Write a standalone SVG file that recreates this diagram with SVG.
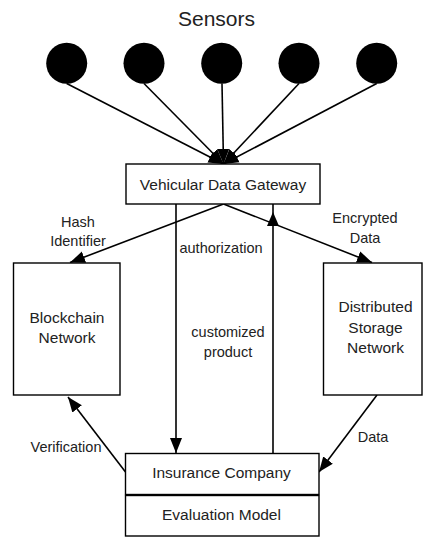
<svg xmlns="http://www.w3.org/2000/svg" width="423" height="537" viewBox="0 0 423 537">
<defs>
<style>
text{font-family:"Liberation Sans",Arial,sans-serif;fill:#222;}
.box{fill:#fff;stroke:#000;stroke-width:1.4;}
.lbl{font-size:14.5px;text-anchor:middle;}
.bt{font-size:15.5px;text-anchor:middle;}
.c{stroke:#000;stroke-width:1.6;fill:none;marker-end:url(#ah);}
.n{stroke:#000;stroke-width:1.6;fill:none;}
</style>
<marker id="ah" markerUnits="userSpaceOnUse" markerWidth="16" markerHeight="13" refX="15" refY="6.5" orient="auto">
<path d="M0,0.5 L15,6.5 L0,12.5 Z" fill="#000"/>
</marker>
</defs>
<rect width="423" height="537" fill="#fff"/>
<text x="216.5" y="26" style="font-size:21px;text-anchor:middle">Sensors</text>
<g id="sensors">
<circle cx="66.7" cy="63.3" r="20.5" fill="#000"/>
<circle cx="144" cy="63.3" r="20.5" fill="#000"/>
<circle cx="221.7" cy="63.3" r="20.5" fill="#000"/>
<circle cx="299" cy="63.3" r="20.5" fill="#000"/>
<circle cx="376.7" cy="63.3" r="20.5" fill="#000"/>
</g>
<g id="connectors">
<line class="c" x1="66.7" y1="83.5" x2="223.5" y2="164"/>
<line class="c" x1="144" y1="83.5" x2="223.5" y2="164"/>
<line class="c" x1="222" y1="83.5" x2="223.5" y2="164"/>
<line class="c" x1="299" y1="83.5" x2="223.5" y2="164"/>
<line class="c" x1="376.7" y1="83.5" x2="223.5" y2="164"/>
<line class="c" x1="223.5" y1="204" x2="70" y2="262.5"/>
<line class="c" x1="223.5" y1="204" x2="372" y2="262.5"/>
<line class="c" x1="176" y1="204" x2="176" y2="453"/>
<line class="n" x1="273" y1="453" x2="273" y2="204"/>
<path d="M273,212 L279,226 L267,226 Z" fill="#000"/>
<line class="c" x1="125.5" y1="472" x2="68" y2="397"/>
<line class="c" x1="377" y1="395" x2="319" y2="472"/>
</g>
<g id="gateway">
<rect class="box" x="126" y="164" width="194" height="40"/>
<text class="bt" x="223" y="189.5">Vehicular Data Gateway</text>
</g>
<g id="blockchain">
<rect class="box" x="13.5" y="263" width="106.5" height="132"/>
<text class="bt" x="67" y="323">Blockchain</text>
<text class="bt" x="67" y="343">Network</text>
</g>
<g id="storage">
<rect class="box" x="323.5" y="263" width="98.5" height="132"/>
<text class="bt" x="375.5" y="312">Distributed</text>
<text class="bt" x="375.5" y="333">Storage</text>
<text class="bt" x="375.5" y="353">Network</text>
</g>
<g id="insurance">
<rect class="box" x="125.5" y="453.5" width="193.5" height="41"/>
<text class="bt" x="221.5" y="478">Insurance Company</text>
</g>
<g id="evaluation">
<rect class="box" x="125.5" y="495.5" width="193.5" height="40.5"/>
<text class="bt" x="221.5" y="520">Evaluation Model</text>
</g>
<g id="labels">
<text class="lbl" x="78" y="227">Hash</text>
<text class="lbl" x="78" y="246">Identifier</text>
<text class="lbl" x="365" y="223">Encrypted</text>
<text class="lbl" x="365" y="243">Data</text>
<text class="lbl" x="221" y="253">authorization</text>
<text class="lbl" x="228" y="337">customized</text>
<text class="lbl" x="228" y="357">product</text>
<text class="lbl" x="66" y="452">Verification</text>
<text class="lbl" x="373" y="442">Data</text>
</g>
</svg>
